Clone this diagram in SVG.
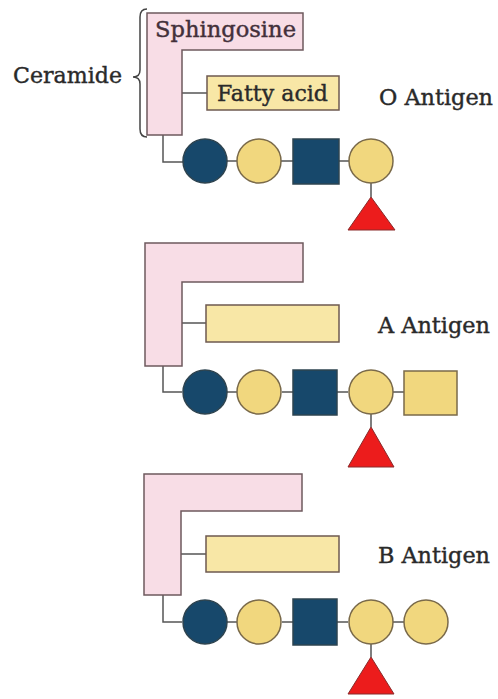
<svg xmlns="http://www.w3.org/2000/svg" width="498" height="699" viewBox="0 0 498 699">
<style>
.sph{fill:#f8dde6;stroke:#6e5a5e;stroke-width:1.5}
.fa{fill:#f8e7a6;stroke:#6e5a50;stroke-width:1.5}
.yc{fill:#f1d77e;stroke:#7a6a4a;stroke-width:1.5}
.bc{fill:#17486b;stroke:#2e4450;stroke-width:1.5}
.tri{fill:#ec1c1c;stroke:#8a2a2a;stroke-width:1}
.ln{fill:none;stroke:#555;stroke-width:1.5}
.t{font-family:"DejaVu Serif","Liberation Serif",serif;font-size:22px;fill:#2a2a2a;stroke:#2a2a2a;stroke-width:0.4}
.ts{font-family:"DejaVu Serif","Liberation Serif",serif;font-size:22px;fill:#43303a;stroke:#43303a;stroke-width:0.4}
</style>
<rect width="498" height="699" fill="#ffffff"/>
<g id="connectors">
<path class="ln" d="M182,93 H207"/>
<path class="ln" d="M163,135 V162 H183 M227,161 H237 M281,161 H293 M339,161 H349 M371,183 V197"/>
<path class="ln" d="M182,323 H206"/>
<path class="ln" d="M163,366 V392 H182 M227,392 H237 M282,392 H293 M337,392 H348 M393,392 H404 M371,414 V427"/>
<path class="ln" d="M181,554 H206"/>
<path class="ln" d="M163,595 V622 H182 M227,622 H237 M282,622 H293 M337,622 H348 M393,622 H405 M371,644 V657"/>
</g>
<g id="ceramide">
<path d="M147,9 Q140,9 140,17 V70 Q140,77 133,77 Q140,77 140,84 V129 Q140,137 147,137" fill="none" stroke="#444" stroke-width="1.5"/>
<text class="t" x="13" y="83" textLength="109" lengthAdjust="spacingAndGlyphs">Ceramide</text>
</g>
<g id="o-antigen">
<path class="sph" d="M147,13 H303 V50 H182 V135 H147 Z"/>
<text class="ts" x="155" y="37" textLength="141" lengthAdjust="spacingAndGlyphs">Sphingosine</text>
<rect class="fa" x="207" y="76" width="132" height="34"/>
<text class="t" x="217" y="101" textLength="111" lengthAdjust="spacingAndGlyphs">Fatty acid</text>
<circle class="bc" cx="205" cy="161" r="22"/>
<circle class="yc" cx="259" cy="161" r="22"/>
<rect class="bc" x="293" y="139" width="46" height="45"/>
<circle class="yc" cx="371" cy="161" r="22"/>
<path class="tri" d="M371,197 L395,230 L348,230 Z"/>
<text class="t" x="379" y="105" textLength="114" lengthAdjust="spacingAndGlyphs">O Antigen</text>
</g>
<g id="a-antigen">
<path class="sph" d="M145,243 H303 V282 H182 V366 H145 Z"/>
<rect class="fa" x="206" y="305" width="133" height="37"/>
<circle class="bc" cx="205" cy="392" r="22"/>
<circle class="yc" cx="259" cy="392" r="22"/>
<rect class="bc" x="293" y="370" width="44" height="45"/>
<circle class="yc" cx="371" cy="392" r="22"/>
<rect class="yc" x="404" y="371" width="53" height="44"/>
<path class="tri" d="M371,427 L394,467 L348,467 Z"/>
<text class="t" x="378" y="333" textLength="112" lengthAdjust="spacingAndGlyphs">A Antigen</text>
</g>
<g id="b-antigen">
<path class="sph" d="M144,474 H302 V511 H181 V595 H144 Z"/>
<rect class="fa" x="206" y="536" width="133" height="36"/>
<circle class="bc" cx="205" cy="622" r="22"/>
<circle class="yc" cx="259" cy="622" r="22"/>
<rect class="bc" x="293" y="599" width="44" height="46"/>
<circle class="yc" cx="371" cy="622" r="22"/>
<circle class="yc" cx="426" cy="622" r="22"/>
<path class="tri" d="M371,657 L394,694 L348,694 Z"/>
<text class="t" x="378" y="563" textLength="112" lengthAdjust="spacingAndGlyphs">B Antigen</text>
</g>
</svg>
